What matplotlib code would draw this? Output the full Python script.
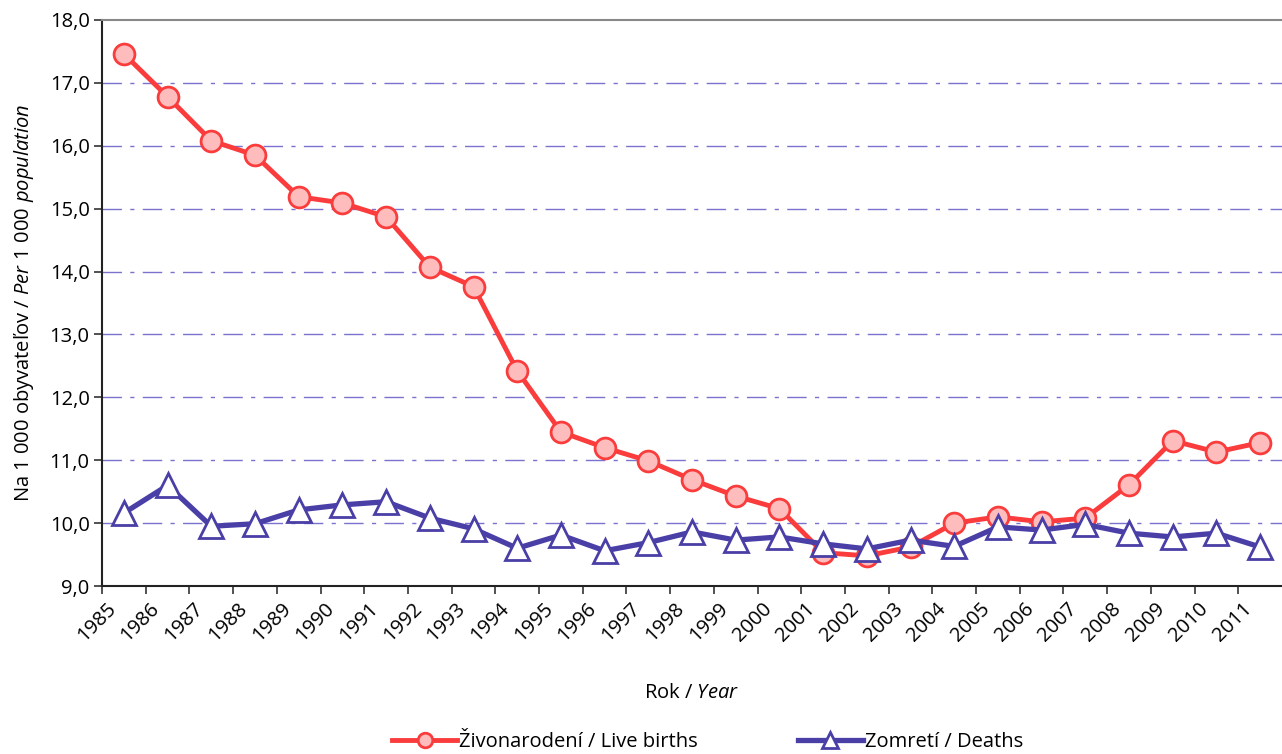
import matplotlib
matplotlib.use("Agg")
import matplotlib.pyplot as plt
from matplotlib.ticker import FuncFormatter
import numpy as np

years = list(range(1985, 2012))
births = [17.46, 16.78, 16.08, 15.85, 15.19, 15.09, 14.87, 14.07, 13.76, 12.42,
          11.45, 11.20, 10.99, 10.69, 10.43, 10.23, 9.53, 9.48, 9.62, 10.00,
          10.10, 10.02, 10.08, 10.61, 11.31, 11.13, 11.28]
deaths = [10.16, 10.60, 9.95, 9.99, 10.21, 10.29, 10.34, 10.08, 9.91, 9.60,
          9.81, 9.56, 9.69, 9.86, 9.73, 9.78, 9.67, 9.59, 9.73, 9.63,
          9.94, 9.89, 9.98, 9.84, 9.78, 9.84, 9.62]

plt.rcParams['font.family'] = ['Open Sans', 'DejaVu Sans']
plt.rcParams['mathtext.fontset'] = 'custom'
plt.rcParams['mathtext.rm'] = 'Open Sans'
plt.rcParams['mathtext.it'] = 'Open Sans:italic'

red = "#fa3c3c"
blue = "#4a3fa6"
grid_c = "#7a72cc"
fs = 14.5

fig = plt.figure(figsize=(12.82, 7.54), dpi=100)
ax = fig.add_axes([0.0796, 0.2228, 0.9204, 0.7507])

x = np.arange(len(years)) + 0.5
ax.plot(x, births, color=red, lw=3.5, marker='o', ms=15, mfc="#ffbcbc", mec=red, mew=2,
        label="Živonarodení / Live births", zorder=3)
ax.plot(x, deaths, color=blue, lw=3.8, marker='^', ms=17, mfc="white", mec=blue, mew=2,
        label="Zomretí / Deaths", zorder=4)

ax.set_xlim(0, len(years))
ax.set_ylim(9, 18)
ax.set_yticks(np.arange(9, 18.5, 1))
ax.yaxis.set_major_formatter(FuncFormatter(lambda v, p: f"{v:.1f}".replace(".", ",")))

# category boundaries get the tick marks, year labels sit just right of them
ax.set_xticks(np.arange(len(years)))
ax.set_xticklabels([])
for i, yr in enumerate(years):
    ax.annotate(str(yr), xy=(i + 0.25, 0), xycoords=('data', 'axes fraction'),
                xytext=(0, -14), textcoords='offset points', rotation=45,
                ha='right', va='center', rotation_mode='anchor', fontsize=fs)

for v in range(10, 18):
    ax.axhline(v, color=grid_c, lw=1, ls=(0, (14, 6, 3, 6)), zorder=1)

ax.tick_params(axis='both', length=6, width=1.2, color="#333333", labelsize=fs)
ax.tick_params(axis='y', pad=3)
for s in ['left', 'bottom']:
    ax.spines[s].set_color("#222222")
    ax.spines[s].set_linewidth(1.5)
ax.spines['top'].set_color("#888888")
ax.spines['top'].set_linewidth(1.5)
ax.spines['right'].set_visible(False)

ax.set_xlabel(r"Rok / $\mathit{Year}$", fontsize=fs, labelpad=60)
ax.set_ylabel(r"Na 1 000 obyvateľov / $\mathit{Per\ 1\ 000\ population}$", fontsize=fs, labelpad=10)

fig.legend(loc='lower center', bbox_to_anchor=(0.552, -0.022), ncol=2, frameon=False,
           fontsize=fs, handlelength=3.2, handletextpad=0.1, columnspacing=5, markerscale=0.7)

fig.savefig("out.png", dpi=100)
